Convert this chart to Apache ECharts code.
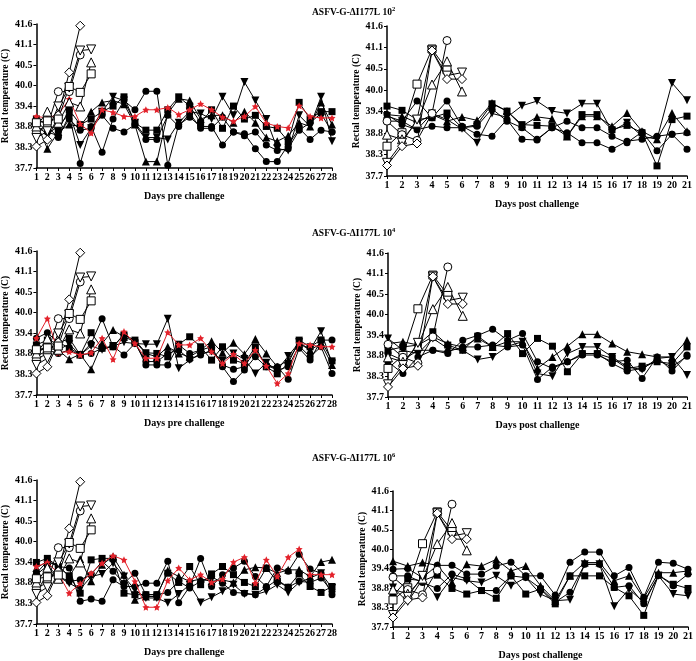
<!DOCTYPE html>
<html><head><meta charset="utf-8">
<script src="https://cdn.jsdelivr.net/npm/echarts@6/dist/echarts.min.js"></script>
<style>html,body{margin:0;padding:0;background:#fff}#c{width:696px;height:661px}</style>
</head><body><div id="c"></div>
<script>
// ---- tick labels ----
const daysPre = ['1','2','3','4','5','6','7','8','9','10','11','12','13','14','15','16','17','18','19','20','21','22','23','24','25','26','27','28'];
const daysPost = ['1','2','3','4','5','6','7','8','9','10','11','12','13','14','15','16','17','18','19','20','21'];
// y ticks are 100..107 °F shown in °C
const yTickLabels = ['37.7','38.3','38.8','39.4','40.0','40.5','41.1','41.6'];
const doseLabels = ['2','4','6'];

// ---- challenge control animals (open symbols), °C ----
const ctlPreDiamond = [38.36, 38.54, 39.2, 40.36, 41.62];
const ctlPreCircle = [38.74, 38.9, 39.84, 39.84, 40.83];
const ctlPreTriDown = [38.59, 38.77, 39.44, 39.95, 40.95, 40.98];
const ctlPreTriUp = [38.9, 39.3, 39.0, 39.55, 39.44, 40.63];
const ctlPreSquare = [39.0, 39.05, 39.1, 39.98, 39.82, 40.32];

const ctlPostSquare = [38.55, 38.9, 40.16, 41.07, 40.53];
const ctlPostCircle = [39.2, 38.85, 38.7, 39.4, 41.29];
const ctlPostTriUp = [38.85, 38.73, 39.16, 40.15, 40.75, 39.97];
const ctlPostTriDown = [38.12, 38.64, 39.24, 41.03, 40.38, 40.46];
const ctlPostDiamond = [38.05, 38.55, 38.62, 41.03, 40.29, 40.29];

// ---- 10^2 pre challenge ----
const p1Square = [39.1, 38.95, 38.8, 39.35, 38.95, 39.1, 39.3, 39.45, 39.7, 39.0, 38.8, 38.8, 39.35, 39.7, 39.45, 39.0, 39.35, 38.85, 39.45, 39.1, 39.2, 38.9, 38.85, 38.5, 39.55, 39.1, 39.3, 39.3];
const p1TriDown = [38.9, 38.7, 38.9, 39.25, 38.4, 38.85, 39.3, 39.7, 39.6, 39.0, 38.6, 38.6, 38.55, 39.0, 39.3, 39.25, 39.1, 39.7, 39.2, 40.1, 39.6, 39.1, 38.3, 38.25, 39.2, 38.9, 39.7, 38.5];
const p1TriUp = [39.0, 38.3, 38.75, 38.95, 38.9, 39.3, 39.55, 39.6, 39.5, 38.95, 37.95, 37.95, 39.25, 39.65, 39.6, 39.1, 39.2, 39.2, 39.0, 39.3, 39.0, 38.6, 38.5, 38.65, 39.0, 38.9, 39.55, 38.95];
const p1CircleA = [38.8, 38.9, 38.6, 39.2, 37.9, 38.9, 38.2, 39.1, 39.6, 39.35, 39.85, 39.85, 37.85, 38.95, 39.15, 38.9, 38.9, 38.4, 38.75, 38.7, 38.3, 37.95, 37.95, 38.4, 38.85, 38.55, 38.8, 38.75];
const p1CircleB = [39.05, 38.75, 38.65, 39.1, 38.8, 38.85, 39.2, 38.85, 38.75, 38.95, 38.55, 38.55, 39.2, 38.9, 39.25, 38.85, 38.85, 39.15, 38.75, 38.65, 38.75, 38.4, 38.25, 38.3, 38.8, 39.0, 39.25, 38.75];
const p1Red = [39.17, 39.13, 39.22, 39.64, 38.97, 38.72, 39.35, 39.28, 39.17, 39.17, 39.35, 39.35, 39.41, 39.22, 39.35, 39.51, 39.35, 39.15, 39.04, 39.17, 39.44, 38.99, 38.90, 38.86, 39.46, 39.17, 39.13, 39.13];

// ---- 10^2 post challenge ----
const p2Square = [39.59, 39.48, 39.24, 39.29, 39.41, 39.03, 39.11, 39.65, 39.46, 39.11, 39.09, 39.07, 38.81, 39.37, 39.37, 38.98, 39.09, 38.90, 38.04, 39.24, 39.33];
const p2TriDown = [39.33, 39.2, 38.98, 39.4, 39.24, 39.0, 38.64, 39.4, 39.3, 39.60, 39.72, 39.46, 39.40, 39.65, 39.65, 38.94, 39.16, 38.81, 38.73, 40.19, 39.74];
const p2TriUp = [39.37, 39.33, 39.16, 39.37, 39.2, 39.31, 39.22, 39.67, 39.46, 39.07, 39.31, 39.26, 38.80, 39.33, 39.33, 39.07, 39.41, 38.94, 38.73, 39.41, 38.94];
const p2CircleA = [39.2, 39.2, 39.72, 39.29, 39.72, 39.07, 38.86, 38.81, 39.24, 38.73, 38.71, 39.03, 39.20, 39.03, 39.03, 38.81, 38.64, 38.92, 38.43, 38.86, 38.9];
const p2CircleB = [39.37, 39.11, 38.98, 39.07, 39.03, 39.03, 39.07, 39.52, 39.20, 39.03, 38.73, 39.03, 38.90, 38.64, 38.64, 38.47, 38.68, 38.73, 38.81, 38.86, 38.47];

// ---- 10^4 pre challenge ----
const p3TriDown = [38.9, 39.1, 39.0, 39.15, 38.86, 39.1, 39.0, 39.1, 39.2, 39.17, 39.15, 39.15, 39.84, 38.50, 38.72, 38.9, 38.95, 38.7, 38.9, 38.75, 38.36, 38.65, 38.45, 38.83, 39.2, 39.0, 39.50, 38.63];
const p3Square = [39.13, 39.26, 39.17, 39.31, 38.86, 39.46, 39.04, 39.08, 39.40, 39.26, 38.92, 38.90, 38.81, 39.15, 39.35, 39.08, 38.72, 39.08, 38.72, 38.63, 39.08, 38.54, 38.35, 38.63, 39.26, 39.08, 39.26, 38.70];
const p3TriUp = [38.99, 39.04, 38.99, 38.74, 38.88, 38.47, 39.17, 39.53, 39.35, 39.22, 38.90, 38.81, 39.08, 38.90, 38.81, 38.99, 39.23, 38.92, 39.19, 38.88, 39.29, 38.90, 38.54, 38.72, 39.17, 38.99, 39.17, 38.59];
const p3CircleA = [39.31, 39.46, 39.19, 39.06, 38.86, 39.17, 39.84, 39.08, 39.42, 39.22, 38.59, 38.59, 38.59, 39.13, 38.90, 38.99, 39.08, 38.54, 38.14, 38.45, 38.81, 38.54, 38.54, 38.20, 39.04, 38.72, 39.26, 39.26];
const p3CircleB = [38.81, 38.99, 38.90, 38.99, 38.86, 38.90, 39.04, 39.10, 38.86, 39.17, 38.68, 38.68, 38.90, 38.99, 38.74, 38.86, 38.99, 38.59, 38.47, 38.54, 38.99, 38.59, 38.45, 38.54, 39.10, 38.81, 39.08, 38.36];
const p3Red = [39.31, 39.84, 38.92, 38.95, 38.86, 38.92, 39.31, 38.74, 39.49, 39.17, 38.77, 38.77, 39.47, 39.13, 39.13, 39.31, 38.95, 38.63, 38.88, 38.63, 38.99, 38.56, 38.09, 38.36, 39.17, 39.13, 39.08, 39.08];

// ---- 10^4 post challenge ----
const p4TriUp = [39.22, 39.27, 39.18, 39.40, 39.22, 39.13, 39.36, 39.13, 39.27, 39.27, 38.55, 38.86, 39.15, 39.47, 39.47, 39.22, 39.00, 38.93, 38.86, 38.86, 39.31];
const p4Square = [39.04, 39.13, 39.18, 39.54, 39.18, 39.04, 39.42, 39.13, 39.49, 38.95, 39.36, 39.15, 38.46, 38.95, 38.95, 38.82, 38.55, 38.61, 38.73, 38.68, 39.13];
const p4TriDown = [39.36, 39.04, 38.95, 39.36, 39.09, 39.04, 38.79, 38.86, 39.15, 39.27, 38.41, 38.34, 38.95, 39.13, 39.13, 38.86, 38.59, 38.52, 38.82, 38.86, 38.37];
const p4CircleA = [38.73, 38.41, 38.86, 39.04, 38.95, 39.31, 39.44, 39.61, 39.31, 39.49, 38.73, 38.55, 38.73, 38.91, 38.91, 38.73, 38.77, 38.28, 38.86, 38.48, 38.91];
const p4CircleB = [38.95, 38.77, 39.04, 39.04, 39.00, 39.13, 39.13, 39.18, 39.13, 39.18, 38.25, 38.59, 38.73, 38.95, 38.95, 38.68, 38.48, 38.55, 38.77, 38.59, 38.88];

// ---- 10^6 pre challenge ----
const p5Square = [39.44, 39.55, 39.33, 39.08, 38.61, 39.51, 39.55, 39.55, 38.61, 38.57, 38.57, 38.57, 39.15, 38.90, 39.33, 38.84, 39.13, 39.33, 39.11, 38.90, 38.79, 39.29, 38.93, 38.77, 39.13, 38.79, 38.63, 38.79];
const p5TriUp = [39.29, 39.47, 39.35, 39.06, 39.53, 38.93, 39.38, 39.60, 39.11, 38.43, 38.52, 38.52, 39.22, 39.06, 38.93, 38.99, 38.93, 38.97, 38.90, 39.24, 39.31, 39.29, 39.15, 39.24, 39.24, 39.06, 39.45, 39.51];
const p5TriDown = [38.61, 39.15, 39.06, 38.88, 38.72, 39.06, 39.13, 39.42, 39.06, 38.70, 38.48, 38.48, 38.35, 38.59, 38.84, 38.36, 38.50, 38.66, 38.84, 38.59, 38.57, 38.66, 38.84, 38.63, 38.90, 39.02, 39.15, 38.75];
const p5CircleA = [39.15, 39.47, 39.33, 39.29, 38.39, 38.45, 38.39, 38.97, 38.79, 38.79, 38.88, 38.88, 39.47, 38.35, 38.79, 39.55, 38.79, 39.11, 39.29, 39.47, 39.06, 38.79, 39.29, 39.20, 39.66, 39.26, 39.15, 38.57];
const p5CircleB = [39.11, 39.35, 39.06, 38.93, 38.97, 39.11, 39.47, 39.20, 38.88, 39.15, 38.57, 38.57, 38.63, 38.93, 38.75, 38.93, 39.06, 38.88, 38.63, 38.61, 38.57, 38.77, 38.97, 38.77, 38.93, 38.90, 39.02, 38.66];
const p5Red = [39.33, 39.44, 39.15, 38.61, 38.87, 39.15, 39.42, 39.62, 39.51, 38.93, 38.23, 38.23, 38.95, 39.29, 38.97, 39.11, 38.90, 38.99, 39.45, 39.58, 38.88, 39.51, 39.06, 39.58, 39.80, 39.11, 39.11, 39.11];

// ---- 10^6 post challenge ----
const p6CircleA = [39.43, 39.45, 39.19, 39.54, 39.54, 39.29, 39.29, 39.52, 39.63, 39.24, 39.24, 38.69, 39.63, 39.92, 39.92, 39.24, 39.48, 38.63, 39.63, 39.60, 39.43];
const p6CircleB = [39.24, 39.24, 39.05, 38.88, 39.29, 39.15, 38.82, 38.82, 39.24, 39.19, 38.88, 38.49, 38.77, 39.57, 39.57, 38.91, 38.96, 38.44, 39.26, 38.96, 39.29];
const p6Square = [38.67, 39.15, 39.10, 39.26, 38.88, 38.72, 38.82, 38.60, 39.24, 38.72, 38.86, 38.44, 39.24, 39.24, 39.24, 38.91, 38.67, 38.11, 39.26, 39.00, 38.88];
const p6TriUp = [39.66, 39.52, 39.62, 39.54, 39.05, 39.57, 39.52, 39.71, 39.38, 39.52, 38.96, 38.53, 39.24, 39.62, 39.62, 39.10, 39.24, 38.60, 39.33, 39.33, 39.38];
const p6TriDown = [38.91, 38.49, 39.15, 38.63, 39.19, 39.10, 39.05, 39.24, 38.96, 39.19, 38.72, 38.53, 38.56, 39.57, 39.57, 38.37, 38.86, 38.49, 39.24, 38.72, 38.67];

// ---------------- build chart ----------------
const FONT = 'Liberation Serif';
const RED = '#e3222b';
const toF = c => +(c * 9 / 5 + 32).toFixed(3);
const STAR = 'path://M0,-10L2.9,-4L9.5,-3.1L4.7,1.5L5.9,8.1L0,5L-5.9,8.1L-4.7,1.5L-9.5,-3.1L-2.9,-4Z';

const kinds = {
  circle:  {symbol: 'circle', size: 7, fill: '#000'},
  square:  {symbol: 'rect', size: 7, fill: '#000'},
  triUp:   {symbol: 'triangle', size: 8, fill: '#000'},
  triDown: {symbol: 'triangle', size: 8, fill: '#000', rot: 180},
  star:    {symbol: STAR, size: 7, fill: RED, line: RED},
  oCircle: {symbol: 'circle', size: 8, fill: '#fff', open: true},
  oSquare: {symbol: 'rect', size: 8, fill: '#fff', open: true},
  oTriUp:  {symbol: 'triangle', size: 9, fill: '#fff', open: true},
  oTriDown:{symbol: 'triangle', size: 9, fill: '#fff', open: true, rot: 180},
  oDiamond:{symbol: 'diamond', size: 9, fill: '#fff', open: true}
};

function mk(gi, data, kind) {
  const k = kinds[kind];
  return {
    type: 'line', xAxisIndex: gi, yAxisIndex: gi,
    data: data.map(toF),
    symbol: k.symbol, symbolSize: k.size, symbolRotate: k.rot || 0,
    showAllSymbol: true, animation: false, z: k.open ? 4 : (kind === 'star' ? 3 : 2),
    lineStyle: {color: k.line || '#000', width: 1},
    itemStyle: {color: k.fill, borderColor: k.open ? '#000' : k.fill, borderWidth: k.open ? 1 : 0}
  };
}

const grids = [
  {left: 33, top: 24, width: 299, height: 144},
  {left: 387, top: 26, width: 300, height: 150},
  {left: 33, top: 251, width: 299, height: 144},
  {left: 388, top: 253, width: 299, height: 144},
  {left: 33, top: 480, width: 299, height: 144},
  {left: 393, top: 491, width: 299, height: 137}
];

const lblStyle = {fontFamily: FONT, fontWeight: 'bold', fontSize: 10, color: '#000'};
const xAxes = grids.map((g, i) => ({
  type: 'category', gridIndex: i, boundaryGap: false,
  data: i % 2 === 0 ? daysPre : daysPost,
  name: i % 2 === 0 ? 'Days pre challenge' : 'Days post challenge',
  nameLocation: 'middle', nameGap: 23,
  nameTextStyle: {fontFamily: FONT, fontWeight: 'bold', fontSize: 10, color: '#000'},
  axisLine: {lineStyle: {color: '#000', width: 1.5}},
  axisTick: {show: true, interval: 0, length: 3, lineStyle: {color: '#000', width: 1}},
  axisLabel: Object.assign({interval: 0, margin: 4}, lblStyle),
  splitLine: {show: false}
}));
const yAxes = grids.map((g, i) => ({
  type: 'value', gridIndex: i, min: 100, max: 107, interval: 1,
  name: 'Rectal temperature (C)', nameLocation: 'middle', nameGap: i % 2 === 0 ? 23 : 24,
  nameTextStyle: {fontFamily: FONT, fontWeight: 'bold', fontSize: 9.5, color: '#000'},
  axisLine: {show: true, lineStyle: {color: '#000', width: 1.5}},
  axisTick: {show: true, length: 3, lineStyle: {color: '#000', width: 1}},
  axisLabel: Object.assign({margin: 4, formatter: v => yTickLabels[Math.round(v - 100)]}, lblStyle),
  splitLine: {show: false}
}));

const titleTops = [1, 222, 447];
const titles = doseLabels.map((d, i) => ({
  text: '{a|ASFV-G-ΔI177L 10}{s|' + d + '}',
  left: 307, top: titleTops[i],
  textStyle: {rich: {
    a: {fontFamily: FONT, fontWeight: 'bold', fontSize: 9.5, color: '#000', lineHeight: 13},
    s: {fontFamily: FONT, fontWeight: 'bold', fontSize: 6.5, color: '#000', verticalAlign: 'top', lineHeight: 13, padding: [0, 0, 5, 0]}
  }}
}));

const series = [];
const preSets = [
  [0, p1CircleA, p1CircleB, p1Square, p1TriUp, p1TriDown, p1Red],
  [2, p3CircleA, p3CircleB, p3Square, p3TriUp, p3TriDown, p3Red],
  [4, p5CircleA, p5CircleB, p5Square, p5TriUp, p5TriDown, p5Red]
];
preSets.forEach(([gi, ca, cb, sq, tu, td, rd]) => {
  series.push(mk(gi, ca, 'circle'), mk(gi, cb, 'circle'), mk(gi, sq, 'square'),
              mk(gi, tu, 'triUp'), mk(gi, td, 'triDown'), mk(gi, rd, 'star'));
  series.push(mk(gi, ctlPreDiamond, 'oDiamond'), mk(gi, ctlPreCircle, 'oCircle'),
              mk(gi, ctlPreTriDown, 'oTriDown'), mk(gi, ctlPreTriUp, 'oTriUp'),
              mk(gi, ctlPreSquare, 'oSquare'));
});
const postSets = [
  [1, p2CircleA, p2CircleB, p2Square, p2TriUp, p2TriDown],
  [3, p4CircleA, p4CircleB, p4Square, p4TriUp, p4TriDown],
  [5, p6CircleA, p6CircleB, p6Square, p6TriUp, p6TriDown]
];
postSets.forEach(([gi, ca, cb, sq, tu, td]) => {
  series.push(mk(gi, ca, 'circle'), mk(gi, cb, 'circle'), mk(gi, sq, 'square'),
              mk(gi, tu, 'triUp'), mk(gi, td, 'triDown'));
  series.push(mk(gi, ctlPostSquare, 'oSquare'), mk(gi, ctlPostCircle, 'oCircle'),
              mk(gi, ctlPostTriUp, 'oTriUp'), mk(gi, ctlPostTriDown, 'oTriDown'),
              mk(gi, ctlPostDiamond, 'oDiamond'));
});

const chart = echarts.init(document.getElementById('c'), null, {renderer: 'canvas'});
chart.setOption({
  backgroundColor: '#fff',
  animation: false,
  title: titles,
  grid: grids,
  xAxis: xAxes,
  yAxis: yAxes,
  series: series
});
</script>
</body></html>
